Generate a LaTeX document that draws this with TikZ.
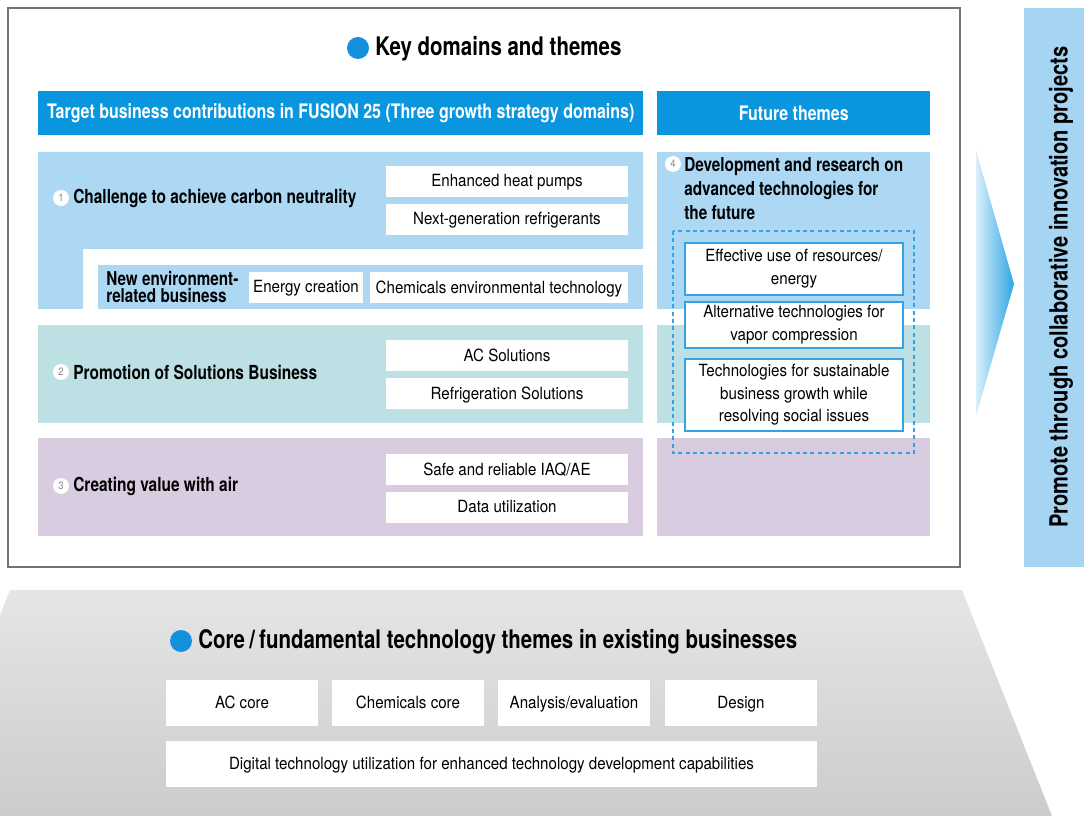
\documentclass[tikz,border=0pt]{standalone}
\usepackage{fontspec}
\setmainfont{TeX Gyre Heros}[FakeStretch=0.9,BoldFeatures={FakeStretch=0.8}]
\usepackage{xcolor}
\usepackage{tikz}

\definecolor{headblue}{HTML}{0A96DF}
\definecolor{bandblue}{HTML}{ACD8F4}
\definecolor{bandteal}{HTML}{BDE0E4}
\definecolor{bandlila}{HTML}{D9CBE0}
\definecolor{barblue}{HTML}{A6D5F3}
\definecolor{dotblue}{HTML}{1590DE}
\definecolor{lineblue}{HTML}{33A3E3}
\definecolor{numgray}{HTML}{8A8A8A}

\begin{document}
\begin{tikzpicture}[
    x=0.75pt, y=-0.75pt,
    every node/.style={inner sep=0pt, font=\fontsize{12.6}{15}\selectfont},
    head/.style={fill=headblue, text=white, font=\bfseries\fontsize{15}{18}\selectfont},
    wbox/.style={fill=white, minimum width=182pt, minimum height=23.5pt, text depth=1pt},
    fbox/.style={fill=white, draw=lineblue, line width=0.9pt, minimum width=163.5pt,
        align=center, font=\fontsize{12.6}{17}\selectfont},
    core/.style={fill=white, minimum width=114pt, minimum height=34.5pt, text depth=1pt},
    title/.style={anchor=west, font=\bfseries\fontsize{14.5}{17}\selectfont},
    bigtitle/.style={font=\bfseries\fontsize{19.2}{22}\selectfont},
    numc/.style={circle, fill=white, minimum size=12pt, text=numgray,
        font=\fontsize{8}{8}\selectfont},
]
\useasboundingbox (0,0) rectangle (1084,816);

% Sockel: Kerntechnologien
\shade[top color=black!10, bottom color=black!20]
    (10,590) -- (962,590) -- (1052,816) -- (0,816) -- (0,615) -- cycle;

% Rahmen oben
\draw[black!55, line width=0.8pt] (8,8) rectangle (960,567);
\fill[dotblue] (358,48) circle (11);
\node[bigtitle, anchor=west] (keytitle) at (375,49) {Key domains and themes};

% Kopfzeilen
\node[head, minimum width=453.75pt, minimum height=33pt, anchor=north west]
    (headl) at (38,91) {Target business contributions in FUSION 25 (Three growth strategy domains)};
\node[head, minimum width=204.75pt, minimum height=33pt, anchor=north west]
    (headr) at (657,91) {Future themes};

% Baender
\fill[bandblue] (38,152) -- (643,152) -- (643,249) -- (83,249) -- (83,309) -- (38,309) -- cycle;
\fill[bandblue] (98,265) rectangle (643,309);
\fill[bandblue] (657,152) rectangle (930,309);
\fill[bandteal] (38,325) rectangle (643,423);
\fill[bandteal] (657,325) rectangle (930,423);
\fill[bandlila] (38,438) rectangle (643,536);
\fill[bandlila] (657,438) rectangle (930,536);

% Bereich 1
\node[numc] (n1) at (61,198) {1};
\node[title] (t1) at (73,198) {Challenge to achieve carbon neutrality};
\node[wbox] (heat) at (507,181.5) {Enhanced heat pumps};
\node[wbox] (refr) at (507,219.5) {Next-generation refrigerants};
\node[title, align=left, font=\bfseries\fontsize{14.3}{12.8}\selectfont]
    (newenv) at (106,287) {New environment-\\related business};
\node[fill=white, minimum width=85.5pt, minimum height=23.5pt, text depth=1pt] (energy) at (306,287.5) {Energy creation};
\node[fill=white, minimum width=193.5pt, minimum height=23.5pt, text depth=1pt] (chem) at (499,287.5) {Chemicals environmental technology};

% Bereich 2
\node[numc] (n2) at (61,372) {2};
\node[title] (t2) at (73,372) {Promotion of Solutions Business};
\node[wbox] (acsol) at (507,355.5) {AC Solutions};
\node[wbox] (refsol) at (507,393.5) {Refrigeration Solutions};

% Bereich 3
\node[numc] (n3) at (61,486) {3};
\node[title] (t3) at (73,486) {Creating value with air};
\node[wbox] (iaq) at (507,469.5) {Safe and reliable IAQ/AE};
\node[wbox] (data) at (507,507.5) {Data utilization};

% Bereich 4
\node[numc] (n4) at (673,164) {4};
\node[title, anchor=north west, align=left, font=\bfseries\fontsize{14.4}{18}\selectfont]
    (t4) at (684,157) {Development and research on\\advanced technologies for\\the future};
\draw[lineblue, line width=0.8pt, dash pattern=on 3pt off 2.5pt] (673,231) rectangle (914,453);
\node[fbox, minimum height=39pt] (res) at (794,269) {Effective use of resources/\\energy};
\node[fbox, minimum height=34.5pt] (vapor) at (794,325) {Alternative technologies for\\vapor compression};
\node[fbox, minimum height=54pt] (social) at (794,395) {Technologies for sustainable\\business growth while\\resolving social issues};

% Pfeil und Leiste rechts
\shade[left color=headblue!15, right color=headblue!85]
    (976,150) -- (1014,284) -- (976,416) -- cycle;
\node[fill=barblue, minimum width=45pt, minimum height=419.25pt, anchor=north west]
    (bar) at (1024,8) {};
\node[rotate=90, font=\bfseries\fontsize{18.8}{20}\selectfont] (promote) at (1061,287)
    {Promote through collaborative innovation projects};

% Kerntechnologien
\fill[dotblue] (181,641) circle (11);
\node[bigtitle, anchor=west] (coretitle) at (198,642)
    {Core\,/\,fundamental technology themes in existing businesses};
\node[core] (accore) at (242,703) {AC core};
\node[core] (chemcore) at (408,703) {Chemicals core};
\node[core] (anal) at (574,703) {Analysis/evaluation};
\node[core] (design) at (741,703) {Design};
\node[fill=white, minimum width=488.25pt, minimum height=34.5pt, text depth=1pt] (digital) at (491.5,764)
    {Digital technology utilization for enhanced technology development capabilities};

\end{tikzpicture}
\end{document}
